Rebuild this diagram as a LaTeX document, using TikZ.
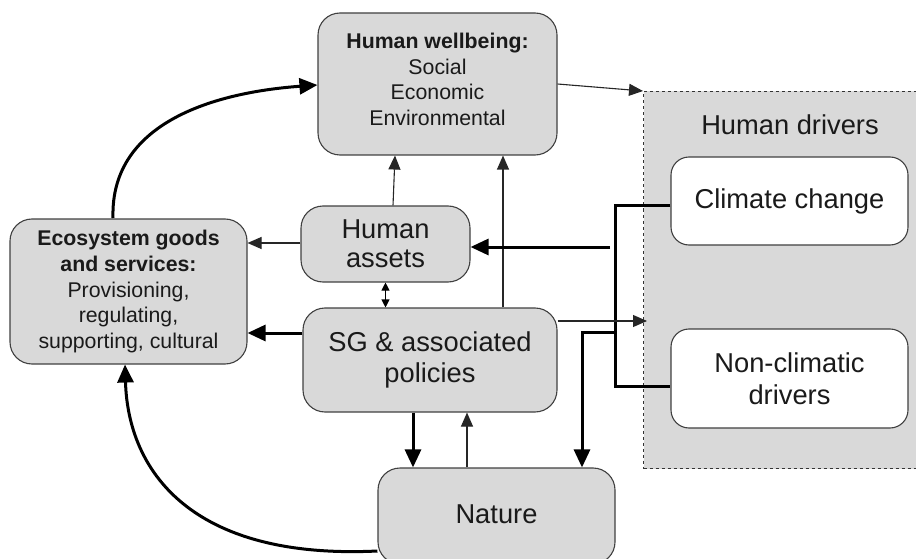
\documentclass[tikz,border=0pt]{standalone}
\usepackage{fontspec}
\setmainfont{Liberation Sans}
\usetikzlibrary{arrows.meta,calc}
\definecolor{boxfill}{HTML}{D9D9D9}
\definecolor{boxline}{HTML}{404040}
\definecolor{txt}{HTML}{1A1A1A}
\tikzset{
  box/.style={draw=boxline,line width=1.1pt,fill=boxfill,rounded corners=22pt,align=center,text=txt,inner sep=0pt},
  wbox/.style={box,fill=white,rounded corners=18pt},
  thin/.style={line width=1.1pt,draw=black!85,-{Triangle[length=14pt,width=12pt]}},
  thick/.style={line width=3pt,-{Triangle[length=18pt,width=16pt]}},
  thickline/.style={line width=3pt},
  big/.style={font=\fontsize{27.3}{31.7}\selectfont},
  small/.style={font=\fontsize{21.3}{25.6}\selectfont},
}
\begin{document}
\begin{tikzpicture}[x=1pt,y=-1pt]
\useasboundingbox (0,0) rectangle (916,559);
\clip (0,0) rectangle (916,559);
% human drivers region
\node[draw=black!80,dashed,line width=1pt,fill=boxfill,minimum width=290pt,minimum height=377pt,anchor=north west,inner sep=0pt] (hd) at (643,91) {};
\node[big,text=txt] (hdt) at (790,125) {Human drivers};
\node[wbox,big,minimum width=237pt,minimum height=88pt] (cc) at (789.5,201) {Climate change};
\node[wbox,big,minimum width=237pt,minimum height=99pt] (nc) at (789.5,378.5) {Non-climatic\\drivers};
% main boxes
\node[box,minimum width=239pt,minimum height=142pt] (hw) at (437.5,84) {};
\node[small,align=center,text=txt] (hwt) at (437.5,79.5) {\textbf{Human wellbeing:}\\Social\\Economic\\Environmental};
\node[box,small,minimum width=237pt,minimum height=145pt] (eco) at (128.5,291.5) {\textbf{Ecosystem goods}\\\textbf{and services:}\\Provisioning,\\regulating,\\supporting, cultural};
\node[box,big,minimum width=169pt,minimum height=76pt] (ha) at (385.5,244) {\raisebox{-3pt}{Human}\\assets};
\node[box,big,minimum width=254pt,minimum height=104pt] (sg) at (430,360) {SG \& associated\\policies};
\node[box,big,minimum width=237pt,minimum height=96pt] (nat) at (496.5,516) {\raisebox{3pt}{Nature}};
% coordinates
\coordinate (bx) at (615,205);
\coordinate (by) at (615,386);
% connectors
\draw[thin] (hw.east |- 0,84) -- (hd.north west);
\draw[thin] (ha.north -| 393,0) -- (hw.south -| 395,0);
\draw[thin] (sg.north -| 503,0) -- (hw.south -| 503,0);
\draw[thin] (ha.west |- 0,243) -- (eco.east |- 0,243);
\draw[line width=1.1pt,{Triangle[length=8pt,width=8pt]}-{Triangle[length=8pt,width=8pt]}] (ha.south) -- (sg.north -| ha.south);
\draw[thick] (sg.west |- 0,333) -- (eco.east |- 0,333);
\draw[thickline] (cc.west |- bx) -- (bx) -- (by) -- (nc.west |- by);
\draw[thick] (610,247) -- (ha.east |- 0,247);
\draw[thin] (sg.east |- 0,321) -- (647,321);
\draw[thick] (615,332) -- (582,332) -- (nat.north -| 582,0);
\draw[thick] (sg.south -| 413,0) -- (nat.north -| 413,0);
\draw[thin] (nat.north -| 467,0) -- (sg.south -| 467,0);
\draw[thick] (113,218) .. controls (110,120) and (220,92) .. (hw.west |- 0,85);
\draw[thick] (nat.west |- 0,551) .. controls (190,560) and (128,470) .. (eco.south -| 125,0);
\end{tikzpicture}
\end{document}
